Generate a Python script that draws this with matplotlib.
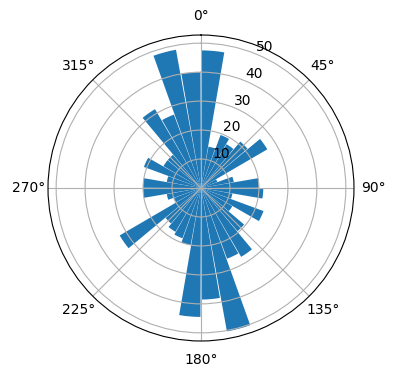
import numpy as np
import matplotlib
matplotlib.use('Agg')
import matplotlib.pyplot as plt

# direction bins (degrees, bin centres) and counts per bin
directions = np.arange(5, 360, 10)
counts = [47.5, 14.5, 19.5, 17.5, 21, 26.5, 6, 11.5, 20,
          21.5, 11, 23, 12.5, 19.5, 27.5, 26, 50.3, 38.5,
          44.5, 20, 18.5, 17.5, 16, 32.5, 10, 12, 20,
          20, 12, 21, 15, 15, 31.5, 27, 48.5, 40]

fig = plt.figure(figsize=(3.96, 3.8), dpi=100)
ax = fig.add_axes([0.1212, 0.1026, 0.7727, 0.8053], projection='polar')
ax.set_theta_zero_location('N')
ax.set_theta_direction(-1)

ax.bar(np.deg2rad(directions), counts, width=np.deg2rad(9.5), color='tab:blue')

fig.savefig('out.png', dpi=100)
